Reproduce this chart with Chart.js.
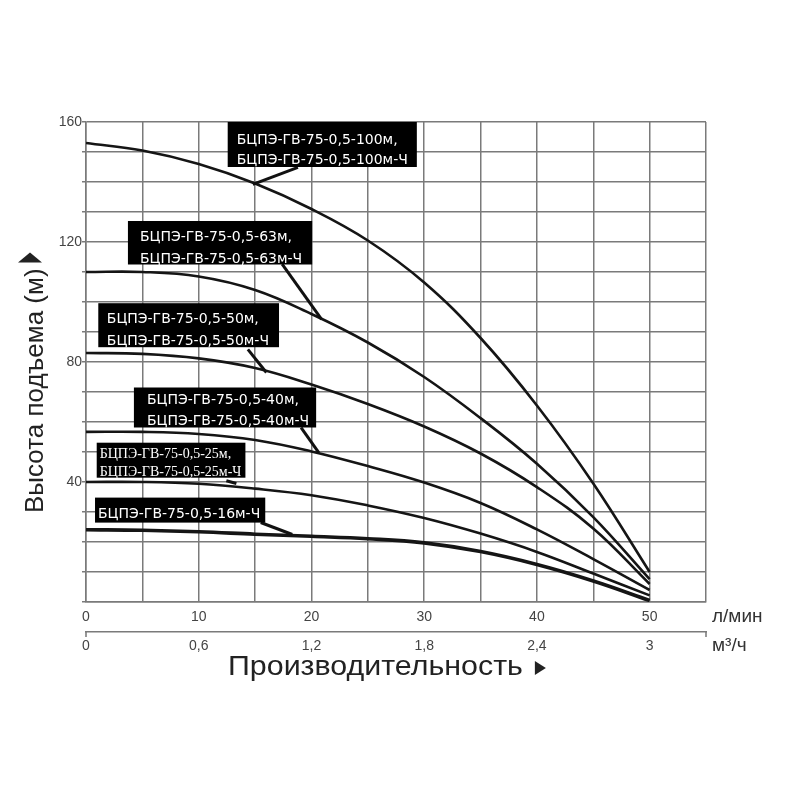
<!DOCTYPE html>
<html lang="ru">
<head>
    <meta charset="UTF-8">
    <title>Напорные характеристики БЦПЭ-ГВ-75-0,5</title>
    <script src="https://cdn.jsdelivr.net/npm/chart.js"></script>
    <style>
        body {
            margin: 0;
            background: #fff;
        }
        #wrap {
            width: 800px;
            height: 800px;
        }
    </style>
</head>
<body>
<div id="wrap"><canvas id="pumpChart" width="800" height="800"></canvas></div>

<script>
    // Flow, l/min
    const flow = [0, 5, 10, 15, 20, 25, 30, 35, 40, 45, 50];

    // Head, m
    const head100 = [153, 150.5, 146, 139.5, 131, 120.5, 106.5, 88, 65.5, 39.5, 10];
    const head63  = [110, 110, 108.5, 104, 96, 86.5, 75, 61.3, 46.1, 28.3, 7.6];
    const head50  = [83, 82.7, 81.2, 78, 72.5, 66, 58.5, 49.5, 38.3, 24.5, 6];
    const head40  = [56.7, 56.7, 56, 54, 50.2, 45.3, 39.8, 33, 24.2, 14.3, 4];
    const head25  = [40, 40, 39.4, 37.8, 35.6, 32.2, 28, 22.8, 16.7, 9.5, 2.2];
    const head16  = [24.1, 23.9, 23.4, 22.6, 21.9, 21.1, 19.7, 16.8, 12.5, 7, 0.5];

    const yTickLabels = [40, 80, 120, 160];
    const flowTickLabels = [0, 10, 20, 30, 40, 50];

    // Model names for the black label boxes
    const labels100 = ['БЦПЭ-ГВ-75-0,5-100м,', 'БЦПЭ-ГВ-75-0,5-100м-Ч'];
    const labels63  = ['БЦПЭ-ГВ-75-0,5-63м,', 'БЦПЭ-ГВ-75-0,5-63м-Ч'];
    const labels50  = ['БЦПЭ-ГВ-75-0,5-50м,', 'БЦПЭ-ГВ-75-0,5-50м-Ч'];
    const labels40  = ['БЦПЭ-ГВ-75-0,5-40м,', 'БЦПЭ-ГВ-75-0,5-40м-Ч'];
    const labels25  = ['БЦПЭ-ГВ-75-0,5-25м,', 'БЦПЭ-ГВ-75-0,5-25м-Ч'];
    const labels16  = ['БЦПЭ-ГВ-75-0,5-16м-Ч'];

    function toPoints(values) {
        return values.map((v, i) => ({ x: flow[i], y: v }));
    }

    function curve(values, width) {
        return {
            data: toPoints(values),
            borderColor: '#151515',
            borderWidth: width,
            pointRadius: 0,
            tension: 0.4,
            fill: false
        };
    }

    // Callout boxes: corner and pointer in data units (flow, head),
    // padding / height / baselines in px
    const callouts = [
        { text: labels100, at: [12.57, 160], from: [18.8, 144.9], to: [14.8, 139.2], padL: 9, padR: 9, h: 45, base: [21.5, 42] },
        { text: labels63,  at: [3.72, 127],  from: [17.4, 112.6], to: [20.9, 94.2], padL: 12, padR: 10, h: 43.5, base: [20, 41.5] },
        { text: labels50,  at: [1.09, 99.6], from: [14.36, 84.2], to: [16.0, 76.5], padL: 8.5, padR: 10, h: 44, base: [20, 42] },
        { text: labels40,  at: [4.25, 71.5], from: [19.08, 58.1], to: [20.65, 49.8], padL: 13, padR: 7, h: 40, base: [16, 37] },
        { text: labels25,  at: [0.95, 53.1], from: [12.45, 40.4], to: [13.34, 39.5], padL: 3, padR: 4, h: 35, base: [15, 33], serif: true },
        { text: labels16,  at: [0.8, 34.8],  from: [15.5, 26.5],  to: [18.3, 22.5], padL: 3, padR: 5, h: 25, base: [20] }
    ];

    const calloutPlugin = {
        id: 'callouts',
        afterDatasetsDraw(chart) {
            const ctx = chart.ctx;
            const xs = chart.scales.x;
            const ys = chart.scales.y;
            ctx.save();
            callouts.forEach(c => {
                // pointer
                ctx.strokeStyle = '#111';
                ctx.lineWidth = 3;
                ctx.beginPath();
                ctx.moveTo(xs.getPixelForValue(c.from[0]), ys.getPixelForValue(c.from[1]));
                ctx.lineTo(xs.getPixelForValue(c.to[0]), ys.getPixelForValue(c.to[1]));
                ctx.stroke();

                ctx.font = c.serif ? '14px "Liberation Serif"' : '14px "DejaVu Sans"';
                const w = Math.max(...c.text.map(t => ctx.measureText(t).width)) + c.padL + c.padR;
                const left = xs.getPixelForValue(c.at[0]);
                const top = ys.getPixelForValue(c.at[1]);
                ctx.fillStyle = '#000';
                ctx.fillRect(left, top, w, c.h);
                ctx.fillStyle = '#fff';
                ctx.textBaseline = 'alphabetic';
                ctx.textAlign = 'left';
                c.text.forEach((t, i) => {
                    ctx.fillText(t, left + c.padL, top + c.base[i]);
                });
            });
            ctx.restore();
        }
    };

    function arrowRight(ctx, x, yBase, w, h) {
        ctx.beginPath();
        ctx.moveTo(x, yBase - h);
        ctx.lineTo(x, yBase);
        ctx.lineTo(x + w, yBase - h / 2);
        ctx.closePath();
        ctx.fill();
    }

    // Axis titles with arrows, units of the two flow rows, separator end ticks
    const decorPlugin = {
        id: 'decor',
        afterDraw(chart) {
            const ctx = chart.ctx;
            const xs = chart.scales.x;
            const x2 = chart.scales.x2;
            const ys = chart.scales.y;
            ctx.save();

            ctx.fillStyle = '#333';
            ctx.font = '19px "Liberation Sans"';
            ctx.textAlign = 'left';
            ctx.textBaseline = 'middle';
            ctx.fillText('л/мин', xs.right + 6, xs.top + 15);
            ctx.fillText('м³/ч', xs.right + 6, x2.top + 14);

            ctx.strokeStyle = '#777';
            ctx.lineWidth = 1.5;
            ctx.beginPath();
            ctx.moveTo(x2.left, x2.top);
            ctx.lineTo(x2.left, x2.top + 5);
            ctx.moveTo(x2.right, x2.top);
            ctx.lineTo(x2.right, x2.top + 5);
            ctx.stroke();

            // x title, slightly widened like the original artwork
            ctx.fillStyle = '#222';
            ctx.textBaseline = 'alphabetic';
            ctx.font = '28px "Liberation Sans"';
            const xTitle = 'Производительность';
            const xStart = 228;
            const xBase = x2.bottom - 3;
            ctx.save();
            ctx.translate(xStart, xBase);
            ctx.scale(1.085, 1);
            ctx.fillText(xTitle, 0, 0);
            ctx.restore();
            const xEnd = xStart + ctx.measureText(xTitle).width * 1.085;
            arrowRight(ctx, xEnd + 12, xBase, 11, 14);

            // y title, rotated
            ctx.translate(ys.left + 43, 513);
            ctx.rotate(-Math.PI / 2);
            ctx.font = '26px "Liberation Sans"';
            const yTitle = 'Высота подъема (м)';
            const yTw = ctx.measureText(yTitle).width;
            ctx.fillText(yTitle, 0, 0);
            arrowRight(ctx, yTw + 6, -1, 10, 24);

            ctx.restore();
        }
    };

    const gridColor = '#7a7a7a';

    new Chart(document.getElementById('pumpChart'), {
        type: 'line',
        data: {
            datasets: [
                curve(head100, 2.6),
                curve(head63, 2.6),
                curve(head50, 2.6),
                curve(head40, 2.6),
                curve(head25, 2.6),
                curve(head16, 3.6)
            ]
        },
        options: {
            responsive: false,
            animation: false,
            layout: {
                padding: { left: 0, top: 122, right: 94, bottom: 122 }
            },
            plugins: {
                legend: { display: false },
                tooltip: { enabled: false }
            },
            scales: {
                x: {
                    type: 'linear',
                    position: 'bottom',
                    weight: 0,
                    min: 0,
                    max: 55,
                    afterFit(scale) { scale.height = 30; },
                    grid: { color: gridColor, lineWidth: 1.5, drawTicks: false },
                    border: { color: gridColor, width: 1.5 },
                    ticks: {
                        stepSize: 5,
                        padding: 7,
                        maxRotation: 0,
                        color: '#444',
                        font: { family: 'Liberation Sans', size: 14 },
                        callback: v => flowTickLabels.includes(v) ? String(v) : ''
                    }
                },
                x2: {
                    type: 'linear',
                    position: 'bottom',
                    weight: 1,
                    min: 0,
                    max: 55,
                    afterFit(scale) { scale.height = 46; },
                    grid: { display: false, drawTicks: false },
                    border: { display: true, color: gridColor, width: 1.5 },
                    ticks: {
                        stepSize: 5,
                        padding: 6,
                        maxRotation: 0,
                        color: '#444',
                        font: { family: 'Liberation Sans', size: 14 },
                        callback: v => flowTickLabels.includes(v)
                            ? parseFloat((v * 0.06).toFixed(1)).toString().replace('.', ',')
                            : ''
                    }
                },
                y: {
                    type: 'linear',
                    min: 0,
                    max: 160,
                    afterFit(scale) { scale.width = 86; },
                    grid: { color: gridColor, lineWidth: 1.5, drawTicks: true, tickLength: 4 },
                    border: { color: gridColor, width: 1.5 },
                    ticks: {
                        stepSize: 10,
                        padding: 0,
                        color: '#444',
                        font: { family: 'Liberation Sans', size: 14 },
                        callback: v => yTickLabels.includes(v) ? String(v) : ''
                    }
                }
            }
        },
        plugins: [calloutPlugin, decorPlugin]
    });
</script>
</body>
</html>
